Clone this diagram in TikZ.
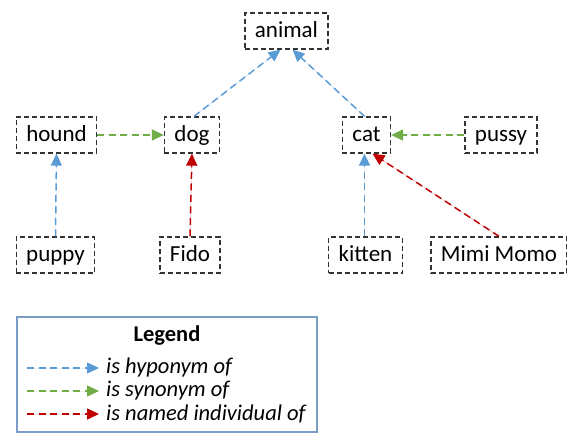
\documentclass[tikz,border=0pt]{standalone}
\usepackage{fontspec}
\setmainfont{Carlito}
\usetikzlibrary{arrows.meta}
\definecolor{hypo}{HTML}{5B9BD5}
\definecolor{syno}{HTML}{70AD47}
\definecolor{named}{HTML}{C00000}
\definecolor{legendframe}{HTML}{7A9CC6}
\tikzset{
  term/.style={draw=black!80, dash pattern=on 5pt off 3pt, line width=1.3pt,
    minimum height=36pt, inner xsep=10pt, inner ysep=0pt,
    text height=18pt, text depth=4pt,
    font=\fontsize{23}{27}\selectfont},
  rel/.style={dash pattern=on 7pt off 4.5pt, line width=1.5pt,
    -{Triangle[length=12pt,width=11pt]}},
  hyponym/.style={rel, draw=hypo, fill=hypo},
  synonym/.style={rel, draw=syno, fill=syno},
  individual/.style={rel, draw=named, fill=named},
  legendtext/.style={anchor=west, inner sep=0pt, font=\fontsize{22.5}{26}\selectfont\itshape}
}
\begin{document}
\begin{tikzpicture}[x=1pt, y=-1pt]
  \useasboundingbox (0,0) rectangle (567,435);

  % terms
  \node[term] (animal) at (286.5,31) {animal};
  \node[term] (hound)  at (56.5,135) {hound};
  \node[term] (dog)    at (192,135)  {dog};
  \node[term] (cat)    at (366.5,135) {cat};
  \node[term] (pussy)  at (501,135)  {pussy};
  \node[term] (puppy)  at (55.5,255) {puppy};
  \node[term] (fido)   at (190,255)  {Fido};
  \node[term] (kitten) at (365.5,255) {kitten};
  \node[term] (mimi)   at (499,255)  {Mimi Momo};

  % hyponymy
  \draw[hyponym] ([xshift=2pt]dog.north) -- ([xshift=-6pt]animal.south);
  \draw[hyponym] ([xshift=-2pt]cat.north) -- ([xshift=6pt]animal.south);
  \draw[hyponym] (puppy.north) -- (hound.south);
  \draw[hyponym] ([xshift=-1pt]kitten.north) -- ([xshift=-2pt]cat.south);

  % synonymy
  \draw[synonym] (hound.east) -- (dog.west);
  \draw[synonym] (pussy.west) -- (cat.east);

  % named individuals
  \draw[individual] (fido.north) -- (dog.south);
  \draw[individual] (mimi.north) -- ([xshift=6pt]cat.south);

  % legend
  \node[draw=legendframe, line width=1.2pt, minimum width=300pt, minimum height=115pt,
        inner sep=0pt] (legend) at (167,374.5) {};
  \node[font=\fontsize{22.5}{26}\selectfont\bfseries, inner sep=0pt] (legendtitle) at (167,336) {Legend};
  \coordinate (la) at (27,368);
  \coordinate (lb) at (99,368);
  \coordinate (lc) at (27,391);
  \coordinate (ld) at (99,391);
  \coordinate (le) at (27,414);
  \coordinate (lf) at (99,414);
  \draw[hyponym] (la) -- (lb);
  \draw[synonym] (lc) -- (ld);
  \draw[individual] (le) -- (lf);
  \node[legendtext] (lt1) at (106,368) {is hyponym of};
  \node[legendtext] (lt2) at (106,391) {is synonym of};
  \node[legendtext] (lt3) at (106,414) {is named individual of};
\end{tikzpicture}
\end{document}
